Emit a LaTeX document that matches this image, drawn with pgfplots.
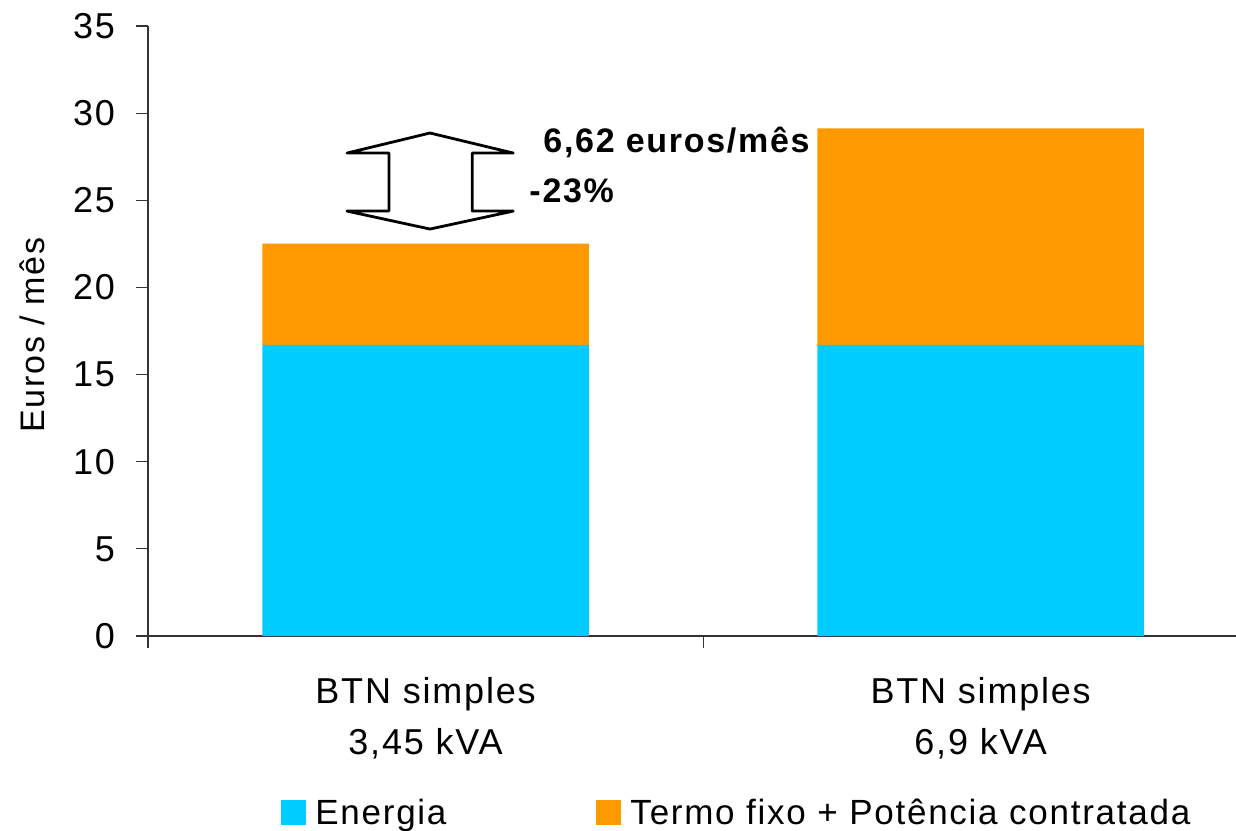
\documentclass[border=0pt]{standalone}
\usepackage{pgfplots}
\pgfplotsset{compat=1.18}
\usepackage{fontspec}
\setmainfont{Liberation Sans}[LetterSpace=5]
\definecolor{energia}{HTML}{00CCFF}
\definecolor{termo}{HTML}{FF9900}
\begin{document}
\begin{tikzpicture}
\begin{axis}[
  scale only axis, width=544pt, height=305pt,
  xmin=0, xmax=1.96, ymin=0, ymax=35,
  axis lines=left, axis line style={-, black!80, line width=0.6pt},
  ytick={0,5,...,35},
  xtick={0,1}, xticklabels={},
  extra x ticks={0.5,1.5},
  extra x tick labels={{BTN simples\\3,45 kVA},{BTN simples\\6,9 kVA}},
  extra x tick style={major tick length=0pt, xticklabel style={align=center, yshift=-17pt}},
  tick align=outside, major tick length=6pt,
  tick style={black!80, line width=0.6pt},
  ticklabel style={font=\fontsize{18}{25.5}\selectfont},
  yticklabel style={xshift=-7pt},
  /pgf/number format/assume math mode=true,
  ylabel={Euros / mês},
  ylabel style={at={(rel axis cs:-0.1066,0.4934)}, anchor=center, font=\fontsize{17}{20}\selectfont},
  ybar stacked, bar width=0.588,
  legend columns=2,
  legend style={at={(rel axis cs:0.1222,-0.29)}, anchor=west, draw=none, fill=none, inner sep=0pt,
    font=\fontsize{17.5}{20}\selectfont,
    /tikz/every even column/.append style={column sep=73pt}},
  legend image code/.code={\fill[#1] (0pt,-6.25pt) rectangle (12.5pt,6.25pt); \path (0pt,0pt) -- (15pt,0pt);},
]
\addplot[fill=energia, draw=none] coordinates {(0.5,16.7) (1.5,16.7)};
\addplot[fill=termo, draw=none] coordinates {(0.5,5.82) (1.5,12.42)};
\legend{Energia, Termo fixo + Potência contratada}
\draw[line width=1.4pt, line join=round]
  (axis cs:0.508,28.86) -- (axis cs:0.658,27.71) -- (axis cs:0.584,27.71)
  -- (axis cs:0.584,24.38) -- (axis cs:0.658,24.38) -- (axis cs:0.508,23.35)
  -- (axis cs:0.3586,24.38) -- (axis cs:0.434,24.38) -- (axis cs:0.434,27.71)
  -- (axis cs:0.3586,27.71) -- cycle;
\node[anchor=base west, inner sep=0pt, font=\bfseries\fontsize{17}{17}\selectfont] at (axis cs:0.7117,27.77) {6,62 euros/mês};
\node[anchor=base west, inner sep=0pt, font=\bfseries\fontsize{17}{17}\selectfont] at (axis cs:0.6865,24.9) {-23\%};
\coordinate (O) at (rel axis cs:0,0);
\end{axis}
\pgfresetboundingbox
\path[use as bounding box] (O) ++(-74pt,-97pt) rectangle ++(618pt,415pt);
\end{tikzpicture}
\end{document}
